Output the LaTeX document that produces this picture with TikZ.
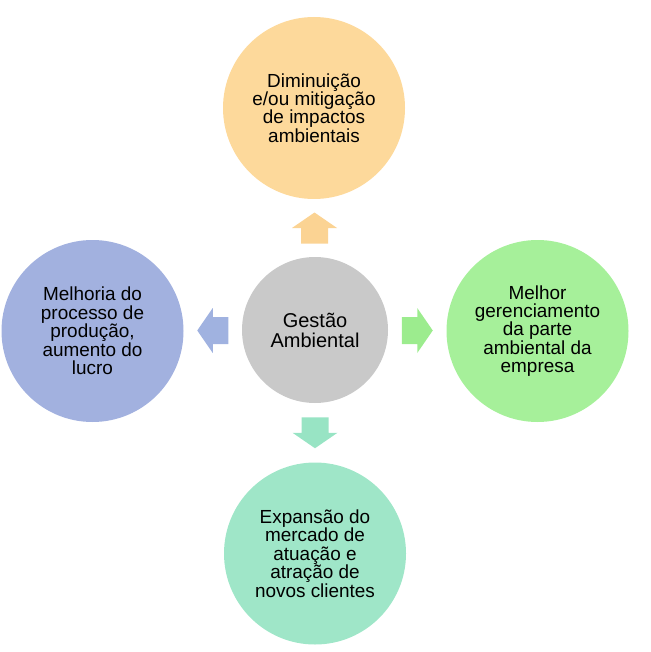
\documentclass[tikz,border=0pt]{standalone}
\usepackage{fontspec}
\setmainfont{Liberation Sans}
\usetikzlibrary{calc}
\definecolor{cTop}{HTML}{FDD99B}
\definecolor{cTopA}{HTML}{FBD393}
\definecolor{cMid}{HTML}{C9C9C9}
\definecolor{cRight}{HTML}{A6F09A}
\definecolor{cRightA}{HTML}{9CEC8E}
\definecolor{cBot}{HTML}{9FE6C8}
\definecolor{cBotA}{HTML}{98E4C4}
\definecolor{cLeft}{HTML}{A2B1DF}
\definecolor{cLeftA}{HTML}{A0B2E0}
\tikzset{
  outer/.style={circle,inner sep=0pt,minimum size=136.5pt,align=center,
    font=\fontsize{14.2pt}{13.8pt}\selectfont,text=black},
  inner/.style={circle,inner sep=0pt,minimum size=109.5pt,align=center,
    font=\fontsize{15pt}{15pt}\selectfont,text=black},
  blockarrow/.pic={\fill[pic actions] (-15.5,-13.5)--(0,-13.5)--(0,-22.5)--(15.5,0)--(0,22.5)--(0,13.5)--(-15.5,13.5)--cycle;}
}
\begin{document}
\begin{tikzpicture}[x=0.75pt,y=-0.75pt]
\useasboundingbox (0,0) rectangle (650,652);
\node[inner,fill=cMid] (c) at (315,330) {Gestão\\Ambiental};
\node[outer,fill=cTop] (t) at (314,108) {Diminuição\\e/ou mitigação\\de impactos\\ambientais};
\node[outer,fill=cRight] (r) at (537.5,331) {Melhor\\gerenciamento\\da parte\\ambiental da\\empresa};
\node[outer,fill=cBot] (b) at (315,553.5) {Expansão do\\mercado de\\atuação e\\atração de\\novos clientes};
\node[outer,fill=cLeft] (l) at (92.5,331) {Melhoria do\\processo de\\produção,\\aumento do\\lucro};
\path ($(c.north)!0.5!(t.south)$) pic[fill=cTopA,rotate=90] {blockarrow};
\path ($(c.east)!0.5!(r.west)$) pic[fill=cRightA] {blockarrow};
\path ($(c.south)!0.5!(b.north)$) pic[fill=cBotA,rotate=-90] {blockarrow};
\path ($(c.west)!0.5!(l.east)$) pic[fill=cLeftA,rotate=180] {blockarrow};
\end{tikzpicture}
\end{document}
